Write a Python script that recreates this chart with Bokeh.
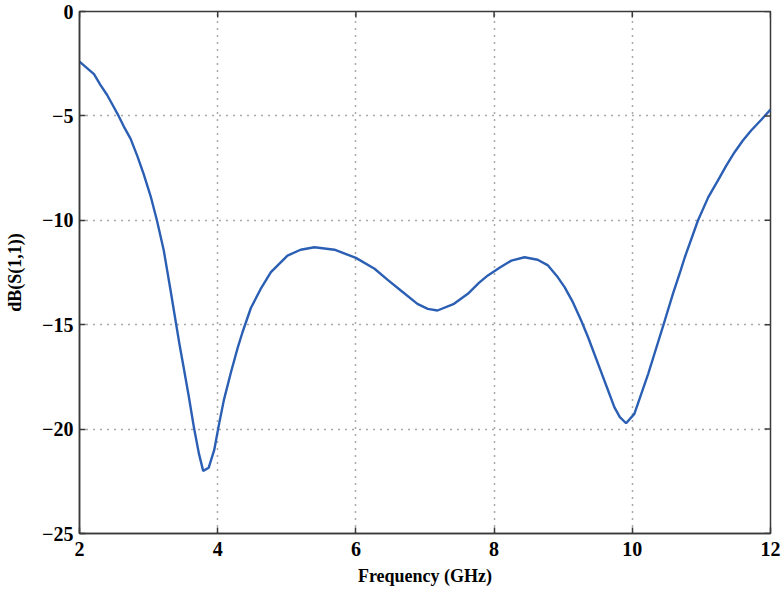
import math
from bokeh.plotting import figure
from bokeh.models import FixedTicker, Range1d
from bokeh.embed import file_html
from bokeh.resources import INLINE

freq = [2.0, 2.21, 2.30, 2.40, 2.47, 2.55, 2.64, 2.74, 2.84, 2.93, 3.03, 3.12, 3.22,
        3.32, 3.40, 3.45, 3.51, 3.58, 3.66, 3.73, 3.79, 3.87, 3.95, 4.02, 4.09, 4.19,
        4.29, 4.36, 4.48, 4.62, 4.77, 5.01, 5.20, 5.40, 5.69, 6.0, 6.27, 6.46, 6.65,
        6.89, 7.04, 7.18, 7.42, 7.62, 7.78, 7.91, 8.09, 8.25, 8.44, 8.63, 8.78, 8.92,
        9.02, 9.14, 9.26, 9.36, 9.45, 9.55, 9.65, 9.74, 9.82, 9.91, 10.03, 10.13,
        10.23, 10.35, 10.47, 10.59, 10.70, 10.76, 10.95, 11.10, 11.24, 11.36, 11.48,
        11.60, 11.72, 11.87, 12.0]
s11_db = [-2.40, -3.0, -3.50, -4.0, -4.42, -4.90, -5.50, -6.10, -6.95, -7.80, -8.85,
          -10.0, -11.45, -13.4, -15.0, -16.0, -17.1, -18.4, -20.0, -21.2, -22.0, -21.85,
          -21.0, -19.75, -18.6, -17.3, -16.1, -15.35, -14.2, -13.3, -12.48, -11.69,
          -11.41, -11.29, -11.41, -11.80, -12.32, -12.85, -13.36, -14.0, -14.24, -14.32,
          -14.0, -13.52, -13.0, -12.64, -12.25, -11.93, -11.77, -11.89, -12.16, -12.72,
          -13.20, -13.92, -14.80, -15.6, -16.39, -17.27, -18.15, -18.95, -19.43, -19.72,
          -19.27, -18.31, -17.35, -16.08, -14.80, -13.5, -12.4, -11.77, -10.01, -8.89,
          -8.09, -7.38, -6.74, -6.18, -5.70, -5.17, -4.70]
x_ticks = [2, 4, 6, 8, 10, 12]
y_ticks = [-25, -20, -15, -10, -5, 0]

FONT = "'Liberation Serif', 'Times New Roman', serif"
AX = "#3a3a3a"

p = figure(width=782, height=598, output_backend="svg", toolbar_location=None,
           x_range=Range1d(2, 12), y_range=Range1d(-25, 0),
           min_border_left=79, min_border_right=12, min_border_top=11, min_border_bottom=65)
p.background_fill_color = "white"
p.border_fill_color = "white"
p.outline_line_color = AX
p.outline_line_width = 1.5

for g, ticks in ((p.xgrid[0], x_ticks), (p.ygrid[0], y_ticks)):
    g.ticker = FixedTicker(ticks=ticks)
    g.grid_line_color = "#555555"
    g.grid_line_dash = "1 6"
    g.grid_line_width = 1.5

p.line(freq, s11_db, line_color="#2b5fb4", line_width=2.4)

for ax, ticks in ((p.xaxis[0], x_ticks), (p.yaxis[0], y_ticks)):
    ax.ticker = FixedTicker(ticks=ticks)
    ax.axis_line_color = AX
    ax.axis_line_width = 1.5
    ax.major_tick_in = 6
    ax.major_tick_out = 0
    ax.major_tick_line_color = AX
    ax.major_tick_line_width = 1.5
    ax.minor_tick_line_color = None
    ax.major_label_text_font = FONT
    ax.major_label_text_font_size = "20px"
    ax.major_label_text_font_style = "bold"
    ax.major_label_text_color = "black"
    ax.axis_label_text_font = FONT
    ax.axis_label_text_font_size = "18px"
    ax.axis_label_text_font_style = "bold"
    ax.axis_label_text_color = "black"

p.xaxis[0].axis_label = "Frequency (GHz)"
p.yaxis[0].axis_label = "dB(S(1,1))"
p.xaxis[0].major_label_standoff = 8
p.yaxis[0].major_label_standoff = 6
p.xaxis[0].axis_label_standoff = 7
p.yaxis[0].axis_label_standoff = 14

# inward tick marks on the top and right edges of the box
p.ray(x=x_ticks, y=[max(y_ticks)] * len(x_ticks), length=6, length_units="screen",
      angle=-math.pi / 2, line_color=AX, line_width=1.5)
p.ray(x=[max(x_ticks)] * len(y_ticks), y=y_ticks, length=6, length_units="screen",
      angle=math.pi, line_color=AX, line_width=1.5)

open("out.html", "w").write(file_html(p, INLINE))
